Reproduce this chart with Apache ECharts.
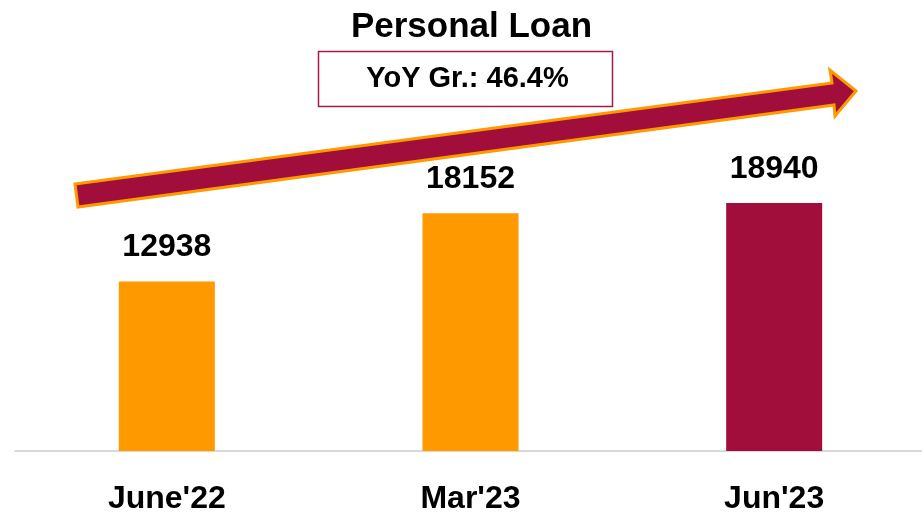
<!DOCTYPE html>
<html>
<head>
<meta charset="utf-8">
<script src="https://cdn.jsdelivr.net/npm/echarts@6/dist/echarts.min.js"></script>
<style>
html,body{margin:0;padding:0;background:#fff;}
#chart{width:922px;height:519px;}
</style>
</head>
<body>
<div id="chart"></div>
<script>
const categories = ["June'22", "Mar'23", "Jun'23"];
const values = [12938, 18152, 18940];
const titleText = 'Personal Loan';
const growthText = 'YoY Gr.: 46.4%';

const ORANGE = '#FF9900';
const MAROON = '#A10E3B';
const barColors = [ORANGE, ORANGE, MAROON];
const FONT = "'Liberation Sans', Arial, sans-serif";

const chart = echarts.init(document.getElementById('chart'));
chart.setOption({
  animation: false,
  backgroundColor: '#fff',
  grid: { left: 15, width: 911, top: 189, bottom: 68, containLabel: false, outerBoundsMode: 'none' },
  xAxis: {
    type: 'category',
    data: categories,
    axisLine: { show: true, lineStyle: { color: '#D9D9D9', width: 2 } },
    axisTick: { show: false },
    axisLabel: {
      margin: 32, color: '#000', fontFamily: FONT, fontWeight: 'bold',
      fontSize: 32, lineHeight: 32
    }
  },
  yAxis: {
    type: 'value', min: 0, max: 20000, interval: 5000,
    show: false, splitLine: { show: false }
  },
  series: [{
    type: 'bar',
    barWidth: 96,
    data: values.map((v, i) => ({ value: v, itemStyle: { color: barColors[i] } })),
    label: {
      show: true, position: 'top', distance: 18,
      color: '#000', fontFamily: FONT, fontWeight: 'bold', fontSize: 32, lineHeight: 32
    }
  }],
  graphic: [
    {
      type: 'polygon',
      shape: { points: [[75,184],[832,83],[830,70],[856,91],[835,116],[834,105],[78,207]] },
      style: { fill: MAROON, stroke: ORANGE, lineWidth: 3, lineJoin: 'miter' },
      z: 10
    },
    {
      type: 'text', x: 471.5, y: 27.5,
      style: { text: titleText, fill: '#000', font: "bold 35px 'Liberation Sans', Arial, sans-serif",
               textAlign: 'center', textVerticalAlign: 'middle' },
      z: 10
    },
    {
      type: 'rect',
      shape: { x: 318.5, y: 51.5, width: 294, height: 55 },
      style: { fill: '#fff', stroke: '#A8184A', lineWidth: 1.5 },
      z: 10
    },
    {
      type: 'text', x: 467.5, y: 78.5,
      style: { text: growthText, fill: '#000', font: "bold 29px 'Liberation Sans', Arial, sans-serif",
               textAlign: 'center', textVerticalAlign: 'middle' },
      z: 11
    }
  ]
});
</script>
</body>
</html>
